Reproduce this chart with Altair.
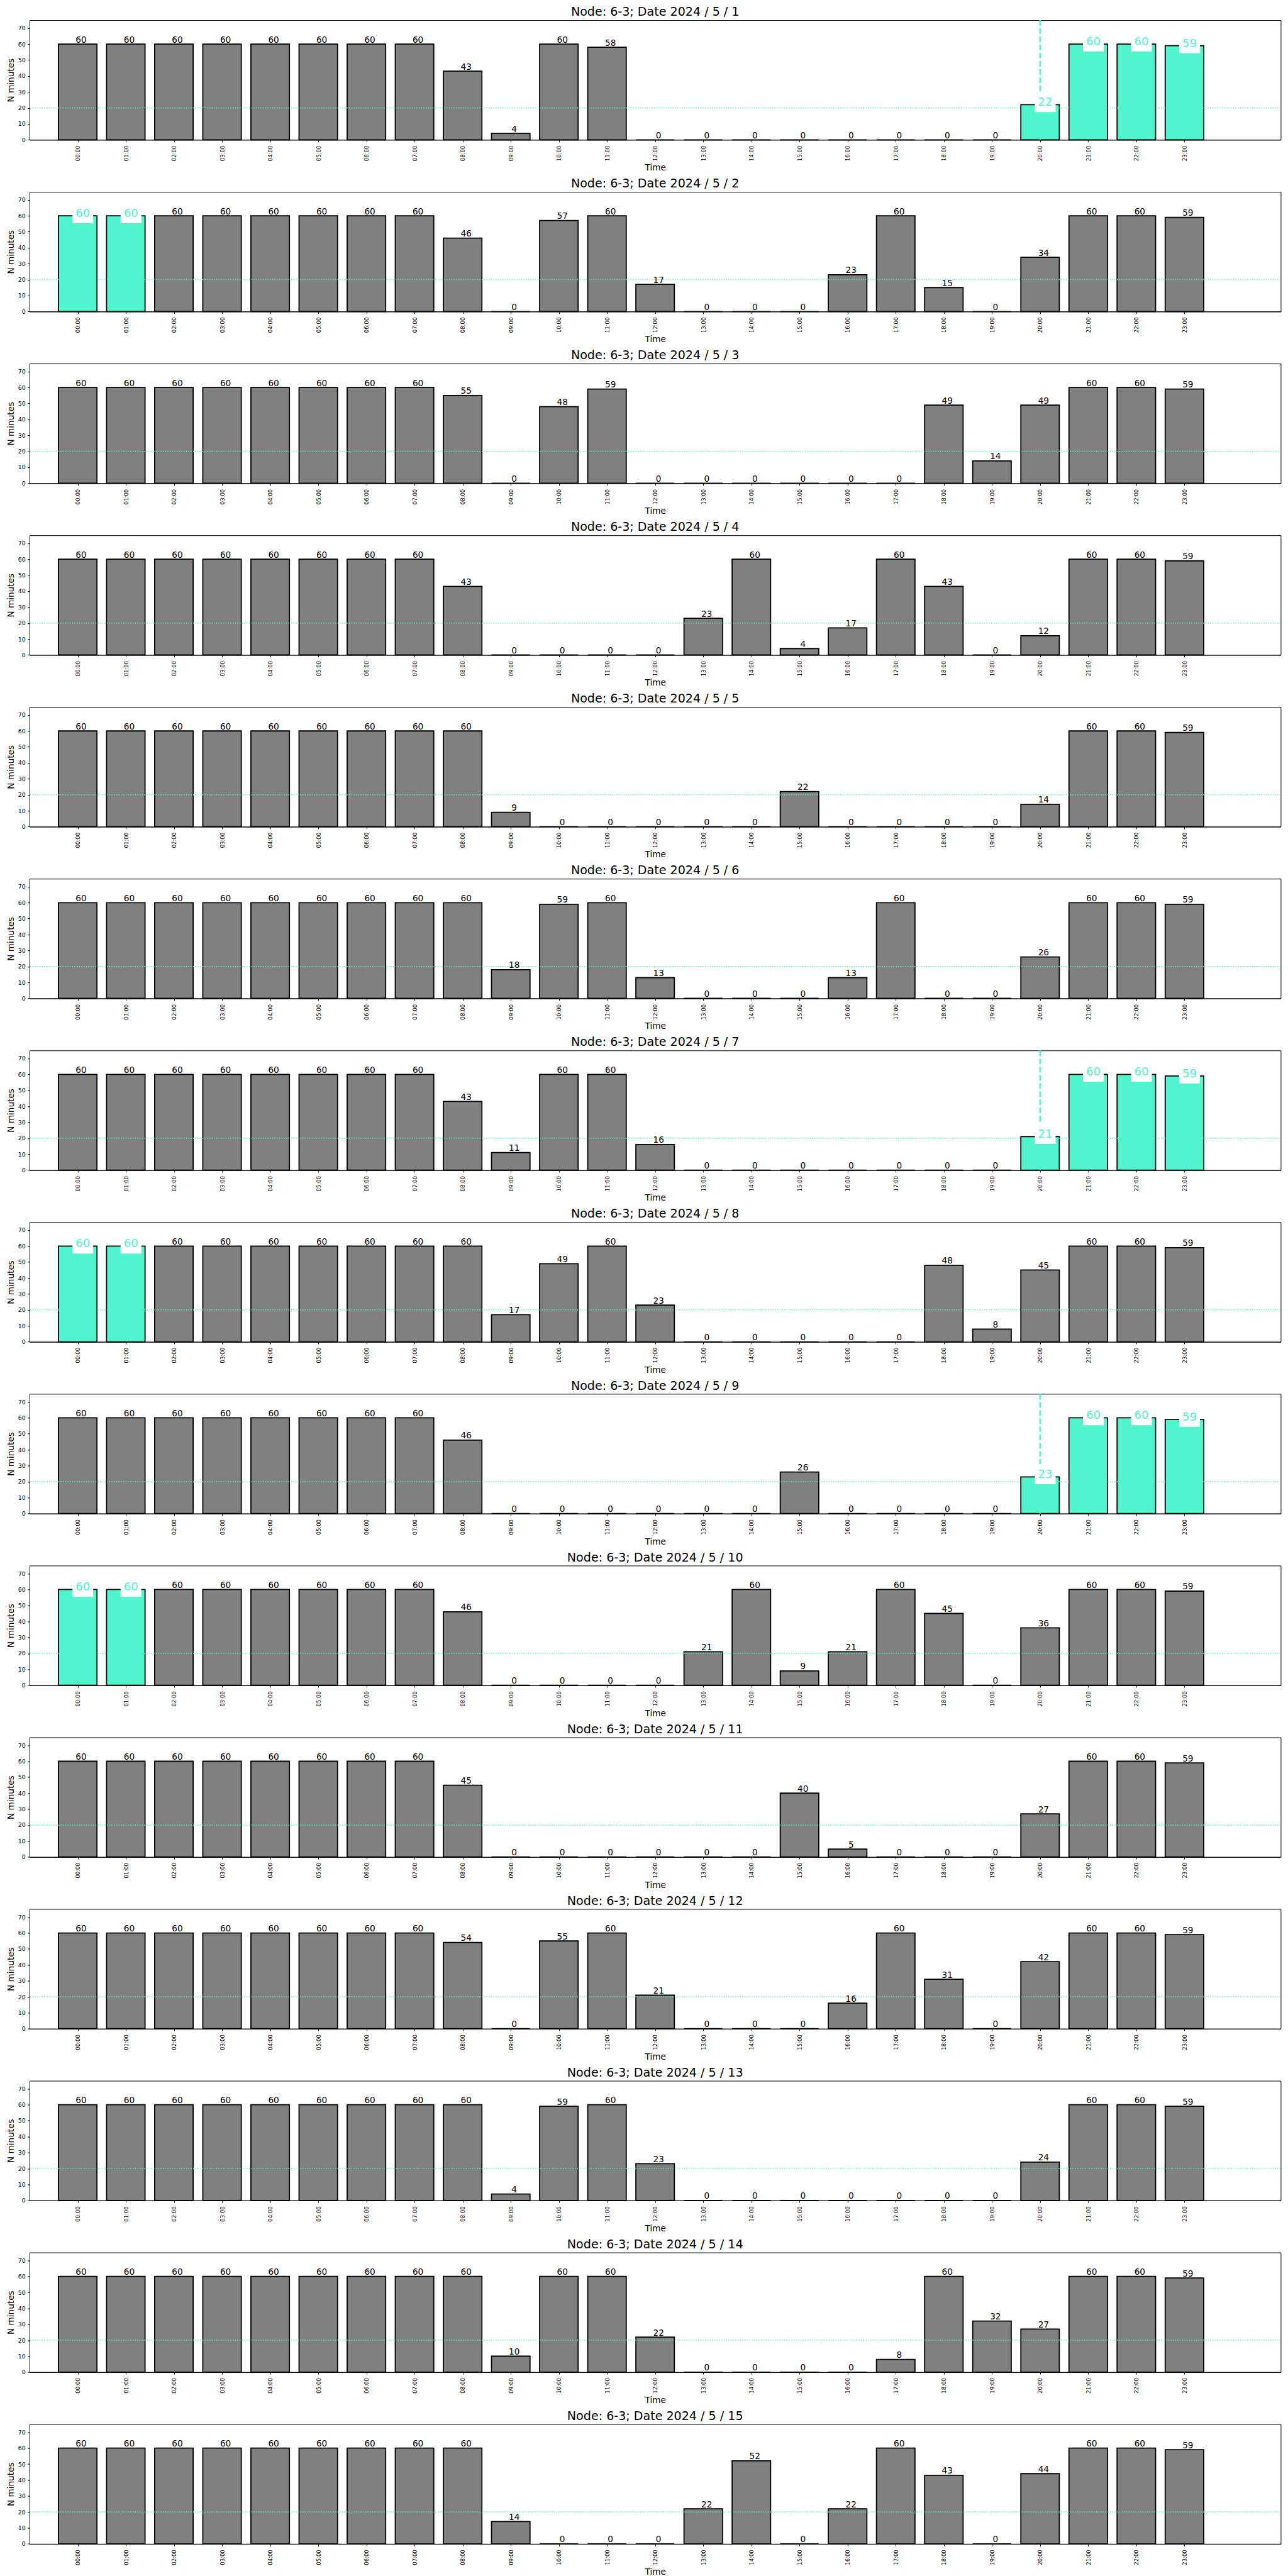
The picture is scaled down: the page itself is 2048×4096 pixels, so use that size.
import altair as alt
import pandas as pd

# ---------------- data ----------------
HOURS = list(range(24))
HOUR_LABELS = [f"{h:02d}:00" for h in HOURS]
DAY_NUMBERS = list(range(1, 16))

DAY_01 = [60, 60, 60, 60, 60, 60, 60, 60, 43, 4, 60, 58, 0, 0, 0, 0, 0, 0, 0, 0, 22, 60, 60, 59]
DAY_02 = [60, 60, 60, 60, 60, 60, 60, 60, 46, 0, 57, 60, 17, 0, 0, 0, 23, 60, 15, 0, 34, 60, 60, 59]
DAY_03 = [60, 60, 60, 60, 60, 60, 60, 60, 55, 0, 48, 59, 0, 0, 0, 0, 0, 0, 49, 14, 49, 60, 60, 59]
DAY_04 = [60, 60, 60, 60, 60, 60, 60, 60, 43, 0, 0, 0, 0, 23, 60, 4, 17, 60, 43, 0, 12, 60, 60, 59]
DAY_05 = [60, 60, 60, 60, 60, 60, 60, 60, 60, 9, 0, 0, 0, 0, 0, 22, 0, 0, 0, 0, 14, 60, 60, 59]
DAY_06 = [60, 60, 60, 60, 60, 60, 60, 60, 60, 18, 59, 60, 13, 0, 0, 0, 13, 60, 0, 0, 26, 60, 60, 59]
DAY_07 = [60, 60, 60, 60, 60, 60, 60, 60, 43, 11, 60, 60, 16, 0, 0, 0, 0, 0, 0, 0, 21, 60, 60, 59]
DAY_08 = [60, 60, 60, 60, 60, 60, 60, 60, 60, 17, 49, 60, 23, 0, 0, 0, 0, 0, 48, 8, 45, 60, 60, 59]
DAY_09 = [60, 60, 60, 60, 60, 60, 60, 60, 46, 0, 0, 0, 0, 0, 0, 26, 0, 0, 0, 0, 23, 60, 60, 59]
DAY_10 = [60, 60, 60, 60, 60, 60, 60, 60, 46, 0, 0, 0, 0, 21, 60, 9, 21, 60, 45, 0, 36, 60, 60, 59]
DAY_11 = [60, 60, 60, 60, 60, 60, 60, 60, 45, 0, 0, 0, 0, 0, 0, 40, 5, 0, 0, 0, 27, 60, 60, 59]
DAY_12 = [60, 60, 60, 60, 60, 60, 60, 60, 54, 0, 55, 60, 21, 0, 0, 0, 16, 60, 31, 0, 42, 60, 60, 59]
DAY_13 = [60, 60, 60, 60, 60, 60, 60, 60, 60, 4, 59, 60, 23, 0, 0, 0, 0, 0, 0, 0, 24, 60, 60, 59]
DAY_14 = [60, 60, 60, 60, 60, 60, 60, 60, 60, 10, 60, 60, 22, 0, 0, 0, 0, 8, 60, 32, 27, 60, 60, 59]
DAY_15 = [60, 60, 60, 60, 60, 60, 60, 60, 60, 14, 0, 0, 0, 22, 52, 0, 22, 60, 43, 0, 44, 60, 60, 59]

DAY_VALUES = [DAY_01, DAY_02, DAY_03, DAY_04, DAY_05, DAY_06, DAY_07, DAY_08,
              DAY_09, DAY_10, DAY_11, DAY_12, DAY_13, DAY_14, DAY_15]

HIGHLIGHT_HOURS = {1: [20, 21, 22, 23], 2: [0, 1], 7: [20, 21, 22, 23], 8: [0, 1],
                   9: [20, 21, 22, 23], 10: [0, 1]}
VLINE_DAYS = [1, 7, 9]
VLINE_HOUR = [20]
THRESHOLD = [20]
Y_TICKS = [0, 10, 20, 30, 40, 50, 60, 70]

# ---------------- style ----------------
S = 0.682
TURQ = "#50F5CE"
GRAY = "#808080"
W = 2917 * S
H = 279 * S
FONT = "DejaVu Sans"

XSCALE = alt.Scale(domain=[-1, 25], nice=False, zero=False)
YSCALE = alt.Scale(domain=[0, 75], nice=False)

label_js = "[" + ",".join(f"'{s}'" for s in HOUR_LABELS) + "][datum.value]"

XAXIS = alt.Axis(values=HOURS, labelExpr=label_js, labelAngle=-90, labelFontSize=12.5 * S,
                 labelFlush=False, labelOverlap=False, labelPadding=5.5, tickSize=4.9 * S,
                 tickColor="black", domainColor="black", labelColor="black", grid=False,
                 titleFontSize=20 * S, titleFontWeight="normal", titleColor="black",
                 titleY=71 * S, titleBaseline="alphabetic")
YAXIS = alt.Axis(values=Y_TICKS, labelFontSize=13.9 * S, labelPadding=4.9 * S,
                 tickSize=4.9 * S, tickColor="black", domainColor="black", labelColor="black",
                 grid=False, titleFontSize=20 * S, titleFontWeight="normal", titleColor="black",
                 titleX=-25.5, titleBaseline="alphabetic")


def X(f):
    return alt.X(f, type="quantitative", scale=XSCALE, axis=XAXIS, title="Time")


def Y(f):
    return alt.Y(f, type="quantitative", scale=YSCALE, axis=YAXIS, title="N minutes")


def panel(day, vals):
    hl = HIGHLIGHT_HOURS.get(day, [])
    df = pd.DataFrame({"hour": HOURS, "value": vals})
    df["hl"] = df["hour"].isin(hl)
    df["fill"] = df["hl"].map({True: TURQ, False: GRAY})
    df["zero"] = 0
    base = alt.Chart(df)

    bars = base.transform_calculate(
        x0="datum.hour - 0.4", x1="datum.hour + 0.4"
    ).mark_rect(stroke="black", strokeWidth=1.8).encode(
        x=X("x0"), x2=alt.X2("x1"), y=Y("value"), y2=alt.Y2("zero"),
        fill=alt.Fill("fill:N", scale=None),
    )
    hline = alt.Chart(pd.DataFrame({"value": THRESHOLD})).mark_rule(
        color=TURQ, strokeDash=[1.5, 2.2], strokeWidth=1.5
    ).encode(y=Y("value"))
    layers = [bars, hline]
    if day in VLINE_DAYS:
        vline = alt.Chart(pd.DataFrame({"hour": VLINE_HOUR})).mark_rule(
            color=TURQ, strokeDash=[9, 4], strokeWidth=2.6
        ).encode(x=X("hour"))
        layers.append(vline)
    labels = base.transform_filter("!datum.hl").mark_text(
        fontSize=20 * S, color="black", dx=5.5, dy=-2.5, baseline="alphabetic", align="center"
    ).encode(x=X("hour"), y=Y("value"), text="value:Q")
    layers.append(labels)
    if hl:
        boxes = base.transform_filter("datum.hl").mark_rect(
            fill="white", xOffset=-8.3, x2Offset=24.7, yOffset=-20.2, y2Offset=11.8
        ).encode(x=X("hour"), x2=alt.X2("hour"), y=Y("value"), y2=alt.Y2("value"))
        hl_text = base.transform_filter("datum.hl").mark_text(
            fontSize=18, color=TURQ, dx=8.2, dy=2, baseline="alphabetic", align="center"
        ).encode(x=X("hour"), y=Y("value"), text="value:Q")
        layers += [boxes, hl_text]

    title = alt.Chart(pd.DataFrame({"t": [f"Node: 6-3; Date 2024 / 5 / {day}"]})).mark_text(
        fontSize=28 * S, color="black", baseline="alphabetic", align="center"
    ).encode(x=alt.value(W / 2), y=alt.value(-10 * S), text="t:N")
    layers.append(title)

    return alt.layer(*layers).properties(width=W, height=H)


panels = [panel(d, v) for d, v in zip(DAY_NUMBERS, DAY_VALUES)]

chart = alt.vconcat(*panels, spacing=399.3 * S - H, bounds="flush").properties(
    padding={"left": 10, "top": 9, "right": 0, "bottom": 0}
).configure(font=FONT).configure_view(stroke="black", strokeWidth=1)

chart.save("out.html", embed_options={"renderer": "svg", "actions": False})
